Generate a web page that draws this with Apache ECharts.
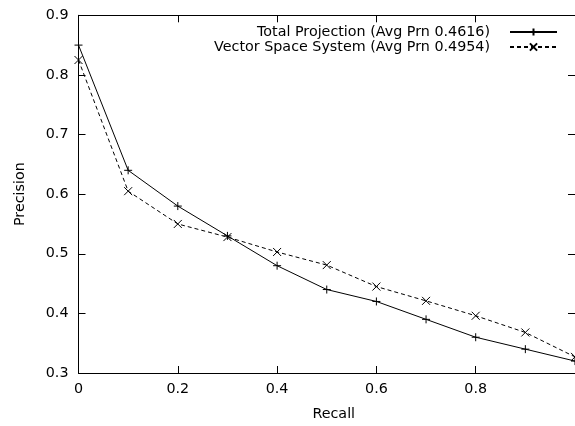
<!DOCTYPE html>
<html>
<head>
<meta charset="utf-8">
<script src="https://cdn.jsdelivr.net/npm/echarts@6/dist/echarts.min.js"></script>
<style>
html,body{margin:0;padding:0;background:#fff;}
#chart{width:575px;height:426px;}
</style>
</head>
<body>
<div id="chart"></div>
<script>
const recall = [0, 0.1, 0.2, 0.3, 0.4, 0.5, 0.6, 0.7, 0.8, 0.9, 1.0];
const totalProjection = [0.85, 0.64, 0.58, 0.53, 0.48, 0.44, 0.42, 0.39, 0.36, 0.34, 0.32];
const vectorSpace = [0.825, 0.605, 0.55, 0.528, 0.503, 0.481, 0.445, 0.421, 0.396, 0.368, 0.327];
const seriesNames = ['Total Projection (Avg Prn 0.4616)', 'Vector Space System (Avg Prn 0.4954)'];
const xTickLabels = ['0', '0.2', '0.4', '0.6', '0.8', ''];
const yTickLabels = ['0.3', '0.4', '0.5', '0.6', '0.7', '0.8', '0.9'];

const FONT = 'DejaVu Sans';
const FS = 14.3;
const plusPath = 'path://M0,5L10,5M5,0L5,10';
const crossPath = 'path://M0,0L10,10M10,0L0,10';

const chart = echarts.init(document.getElementById('chart'), null, {renderer: 'canvas'});

function xLabel(v) {
  const i = Math.round(v / 0.2);
  return xTickLabels[i] !== undefined ? xTickLabels[i] : '';
}
function yLabel(v) {
  const i = Math.round((v - 0.3) / 0.1);
  return yTickLabels[i] !== undefined ? yTickLabels[i] : '';
}

const axisCommon = {
  axisLine: {show: true, onZero: false, lineStyle: {color: '#000', width: 1}},
  axisTick: {show: true, inside: true, length: 7, lineStyle: {color: '#000', width: 1}},
  splitLine: {show: false}
};

chart.setOption({
  animation: false,
  backgroundColor: '#fff',
  textStyle: {fontFamily: FONT},
  grid: {left: 78.5, top: 15.3, right: -4.2, bottom: 49.3, containLabel: false},
  legend: {
    show: true,
    orient: 'vertical',
    align: 'right',
    right: 17,
    top: 24.5,
    padding: 0,
    itemWidth: 47,
    itemHeight: 9,
    itemGap: 0,
    textStyle: {fontFamily: FONT, fontSize: FS, color: '#000', lineHeight: 15, padding: [0, 15, 0, 0]},
    data: [
      {name: seriesNames[0]},
      {name: seriesNames[1]}
    ]
  },
  xAxis: [
    Object.assign({}, axisCommon, {
      type: 'value', min: 0, max: 1, interval: 0.2, position: 'bottom',
      name: 'Recall', nameLocation: 'middle', nameGap: 34,
      nameTextStyle: {fontFamily: FONT, fontSize: FS, color: '#000', padding: [0, 0, 0, 14]},
      axisLabel: {show: true, margin: 9, color: '#000', fontFamily: FONT, fontSize: FS, formatter: xLabel, showMaxLabel: false}
    }),
    Object.assign({}, axisCommon, {
      type: 'value', min: 0, max: 1, interval: 0.2, position: 'top',
      axisLabel: {show: false}
    })
  ],
  yAxis: [
    Object.assign({}, axisCommon, {
      type: 'value', min: 0.3, max: 0.9, interval: 0.1, position: 'left',
      name: 'Precision', nameLocation: 'middle', nameGap: 51, nameRotate: 90,
      nameTextStyle: {fontFamily: FONT, fontSize: FS, color: '#000'},
      axisLabel: {show: true, margin: 10, color: '#000', fontFamily: FONT, fontSize: FS, formatter: yLabel}
    }),
    Object.assign({}, axisCommon, {
      type: 'value', min: 0.3, max: 0.9, interval: 0.1, position: 'right',
      axisLabel: {show: false}
    })
  ],
  series: [
    {
      name: seriesNames[0],
      type: 'line',
      xAxisIndex: 0, yAxisIndex: 0,
      data: recall.map((r, i) => [r, totalProjection[i]]),
      symbol: plusPath,
      symbolSize: 8,
      showSymbol: true,
      lineStyle: {color: '#000', width: 1, type: 'solid'},
      itemStyle: {color: 'rgba(0,0,0,0)', borderColor: '#000', borderWidth: 1},
      emphasis: {disabled: true},
      z: 3
    },
    {
      name: seriesNames[1],
      type: 'line',
      xAxisIndex: 0, yAxisIndex: 0,
      data: recall.map((r, i) => [r, vectorSpace[i]]),
      symbol: crossPath,
      symbolSize: 8,
      showSymbol: true,
      lineStyle: {color: '#000', width: 1, type: [4, 3]},
      itemStyle: {color: 'rgba(0,0,0,0)', borderColor: '#000', borderWidth: 1},
      emphasis: {disabled: true},
      z: 2
    }
  ]
});
</script>
</body>
</html>
